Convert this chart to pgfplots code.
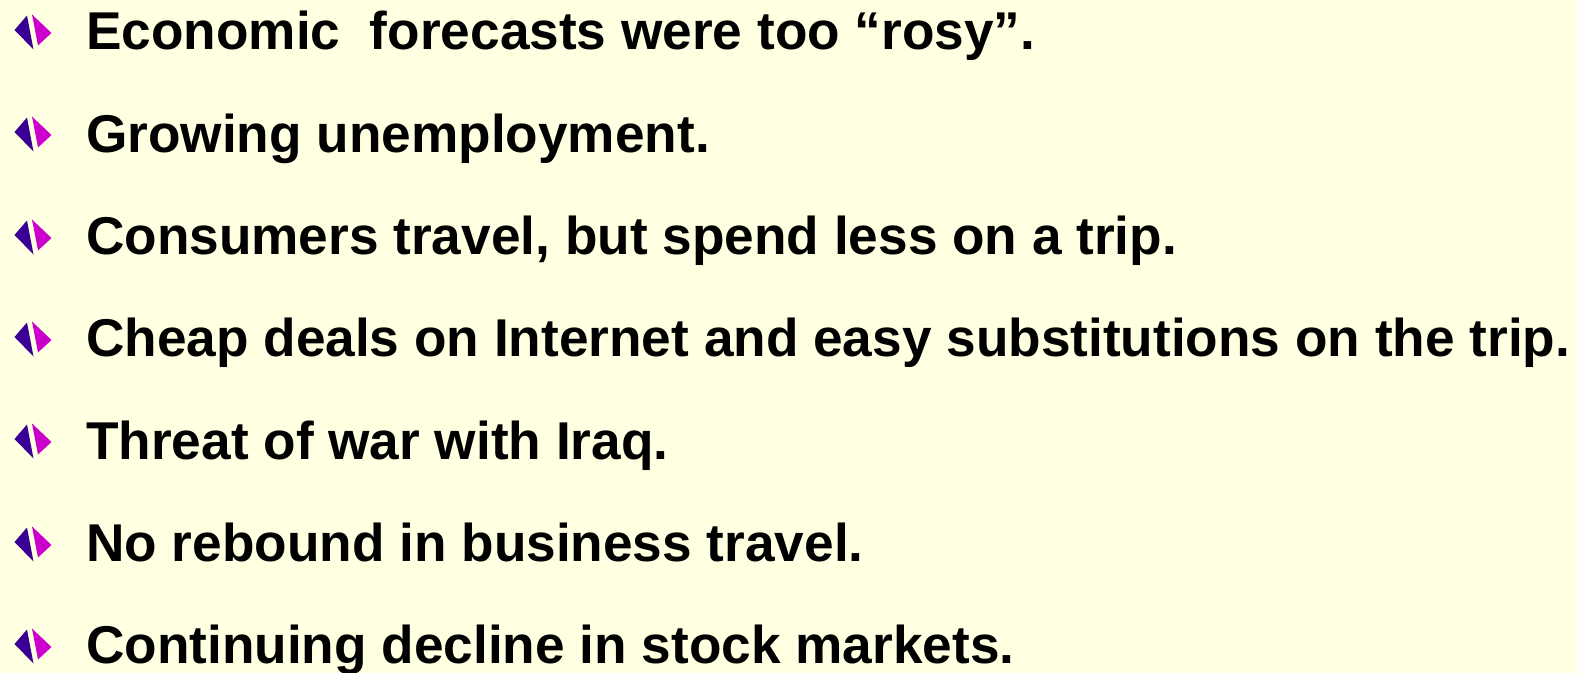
\documentclass[border=0pt]{standalone}
\usepackage{fontspec}
\setmainfont{Liberation Sans}
\usepackage{xcolor}
\usepackage{pgfplots}
\pgfplotsset{compat=1.18}
\definecolor{SlideBg}{HTML}{FFFFE1}
\definecolor{BulletL}{HTML}{3A0096}
\definecolor{BulletR}{HTML}{CC00CC}

% two-tone split diamond bullet
\pgfdeclareplotmark{splitdiamond}{%
  \pgfsetfillcolor{BulletL}%
  \pgfpathmoveto{\pgfpoint{-6bp}{16.5bp}}%
  \pgfpathlineto{\pgfpoint{-18.5bp}{2bp}}%
  \pgfpathlineto{\pgfpoint{0.5bp}{-17.5bp}}%
  \pgfpathclose\pgfusepathqfill
  \pgfsetfillcolor{BulletR}%
  \pgfpathmoveto{\pgfpoint{-1bp}{17.5bp}}%
  \pgfpathlineto{\pgfpoint{18.5bp}{-1bp}}%
  \pgfpathlineto{\pgfpoint{5bp}{-13.5bp}}%
  \pgfpathclose\pgfusepathqfill
}

\begin{document}
\begin{tikzpicture}
\begin{axis}[
  scale only axis, width=1577bp, height=673bp,
  xmin=0, xmax=1577, ymin=0, ymax=673, y dir=reverse,
  hide axis, clip=false,
]
\fill[SlideBg] (axis cs:0,0) rectangle (axis cs:1577,673);
\addplot[only marks, mark=splitdiamond] coordinates {
  (33,32) (33,134) (33,237) (33,339) (33,441) (33,544) (33,646)};
\tikzset{line/.style={anchor=base west, inner sep=0pt,
  font=\fontsize{53.2bp}{60bp}\selectfont\bfseries}}
\node[line] at (axis cs:86,50.0)  {Economic\ \ forecasts were too “rosy”.};
\node[line] at (axis cs:86,152.3) {Growing unemployment.};
\node[line] at (axis cs:86,254.6) {Consumers travel, but spend less on a trip.};
\node[line] at (axis cs:86,356.9) {Cheap deals on Internet and easy substitutions on the trip.};
\node[line] at (axis cs:86,459.2) {Threat of war with Iraq.};
\node[line] at (axis cs:86,561.5) {No rebound in business travel.};
\node[line] at (axis cs:86,663.8) {Continuing decline in stock markets.};
\end{axis}
\pgfresetboundingbox
\path (current axis.south west) rectangle (current axis.north east);
\end{tikzpicture}
\end{document}
